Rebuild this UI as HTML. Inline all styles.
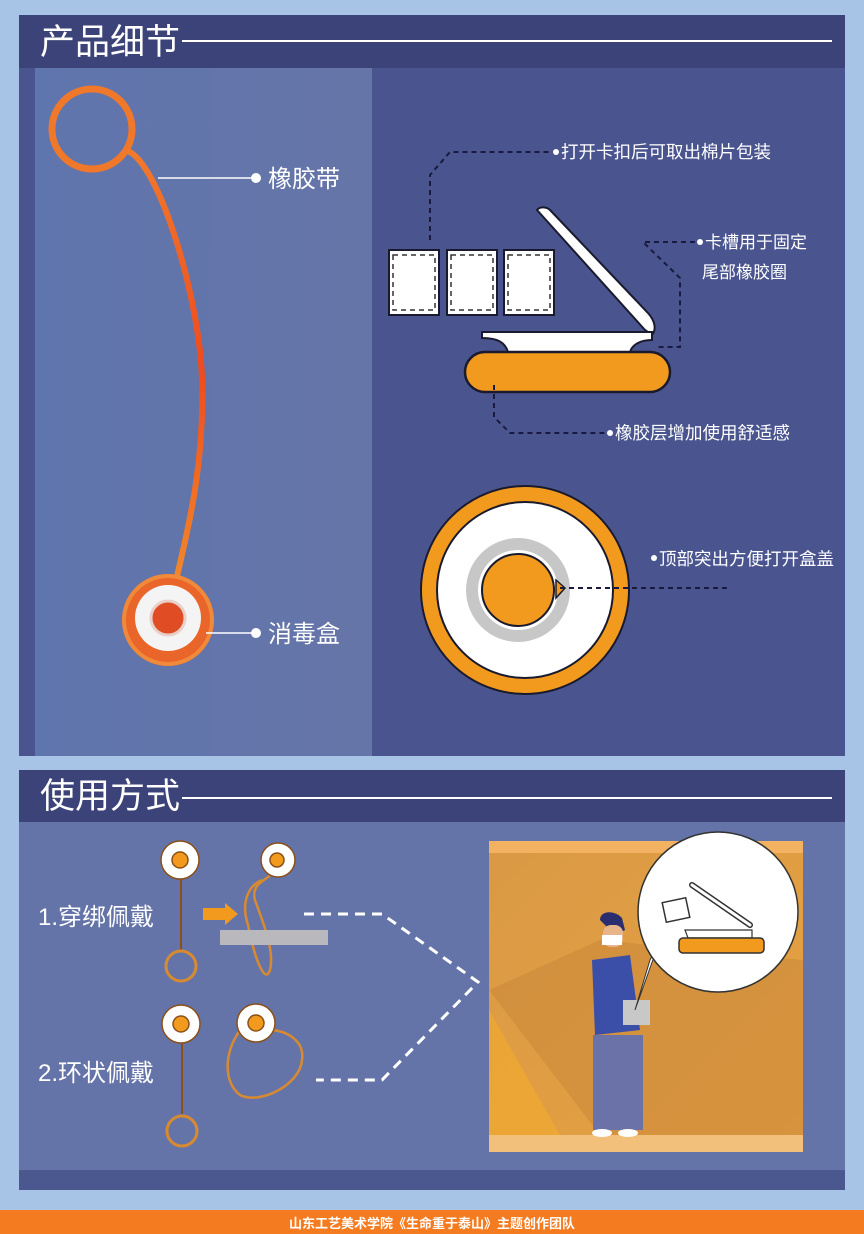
<!DOCTYPE html>
<html><head><meta charset="utf-8"><style>
html,body{margin:0;padding:0;width:864px;height:1234px;overflow:hidden;background:#a7c3e6;}
svg{display:block}
text{font-family:"Liberation Sans","Noto Sans CJK SC",sans-serif;fill:#fff}
</style></head><body>
<svg width="864" height="1234" viewBox="0 0 864 1234" xmlns="http://www.w3.org/2000/svg">
<defs>
<linearGradient id="lp" x1="0" y1="0" x2="1" y2="0"><stop offset="0" stop-color="#5f75ad"/><stop offset="1" stop-color="#6675a8"/></linearGradient>
<linearGradient id="band" x1="0" y1="0" x2="0" y2="1"><stop offset="0" stop-color="#f07a2c"/><stop offset="0.5" stop-color="#f04a1e"/><stop offset="1" stop-color="#f08a2a"/></linearGradient>
<linearGradient id="ph" x1="0" y1="0" x2="1" y2="1"><stop offset="0" stop-color="#d99a45"/><stop offset="1" stop-color="#e8a040"/></linearGradient>
</defs>
<rect x="19" y="15" width="826" height="741" fill="#4a558f"/>
<rect x="19" y="15" width="826" height="53" fill="#3c4379"/>
<text x="40" y="54" font-size="35">产品细节</text>
<line x1="182" y1="41" x2="832" y2="41" stroke="#fff" stroke-width="2"/>
<rect x="35" y="68" width="337" height="688" fill="url(#lp)"/>
<circle cx="92" cy="129" r="40" fill="none" stroke="#f0782a" stroke-width="7"/>
<path d="M128,151 C160,165 200,300 202,380 C205,470 185,540 175,585" fill="none" stroke="url(#band)" stroke-width="6"/>
<line x1="158" y1="178" x2="255" y2="178" stroke="#fff" stroke-width="1.5"/>
<circle cx="256" cy="178" r="5" fill="#fff"/>
<text x="268" y="187" font-size="24">橡胶带</text>
<circle cx="168" cy="620" r="46" fill="#e9652a"/>
<circle cx="168" cy="620" r="44" fill="none" stroke="#f08a3a" stroke-width="4"/>
<circle cx="168" cy="618" r="33" fill="#f4f4f4"/>
<circle cx="168" cy="618" r="17" fill="#e04d25" stroke="#e8d0c8" stroke-width="3"/>
<line x1="206" y1="633" x2="255" y2="633" stroke="#fff" stroke-width="1.5"/>
<circle cx="256" cy="633" r="5" fill="#fff"/>
<text x="268" y="642" font-size="24">消毒盒</text>
<g stroke="#1a1a2e" stroke-width="2">
<rect x="389" y="250" width="50" height="65" fill="#fff"/>
<rect x="447" y="250" width="50" height="65" fill="#fff"/>
<rect x="504" y="250" width="50" height="65" fill="#fff"/>
</g>
<g fill="none" stroke="#333" stroke-width="1.5" stroke-dasharray="5,4">
<rect x="393" y="255" width="42" height="55"/><rect x="451" y="255" width="42" height="55"/><rect x="508" y="255" width="42" height="55"/>
</g>
<path d="M537,210 C540,206 547,207 550,210 L648,313 C656,322 656,330 652,335 L645,330 Z" fill="#fff" stroke="#1a1a2e" stroke-width="2"/>
<path d="M482,332 L652,332 L652,340 C640,340 632,345 630,352 L508,352 C505,342 497,338 482,338 Z" fill="#fff" stroke="#1a1a2e" stroke-width="2"/>
<rect x="465" y="352" width="205" height="40" rx="20" fill="#f29a1e" stroke="#1a1a2e" stroke-width="2.5"/>
<g fill="none" stroke="#1a1a40" stroke-width="2" stroke-dasharray="5,4">
<path d="M430,240 L430,175 L450,152 L550,152"/>
<path d="M695,242 L643,242 L680,278 L680,347 L655,347"/>
<path d="M494,385 L494,417 L510,433 L607,433"/>
</g>
<circle cx="556" cy="152" r="3" fill="#fff"/><text x="561" y="158" font-size="17.5">打开卡扣后可取出棉片包装</text>
<circle cx="700" cy="242" r="3" fill="#fff"/><text x="705" y="248" font-size="17">卡槽用于固定</text>
<text x="702" y="278" font-size="17">尾部橡胶圈</text>
<circle cx="610" cy="433" r="3" fill="#fff"/><text x="615" y="439" font-size="17.5">橡胶层增加使用舒适感</text>
<circle cx="654" cy="558" r="3" fill="#fff"/><text x="659" y="565" font-size="17.5">顶部突出方便打开盒盖</text>
<circle cx="525" cy="590" r="104" fill="#f29a1e" stroke="#1a1a2e" stroke-width="2"/>
<circle cx="525" cy="590" r="88" fill="#fff" stroke="#1a1a2e" stroke-width="2"/>
<circle cx="518" cy="590" r="52" fill="#c7c7c7"/>
<circle cx="518" cy="590" r="40" fill="#fff"/>
<circle cx="518" cy="590" r="36" fill="#f29a1e" stroke="#1a1a2e" stroke-width="2"/>
<path d="M556,580 L565,588 L556,598 Z" fill="#f29a1e" stroke="#1a1a2e" stroke-width="1.5"/>
<line x1="560" y1="588" x2="727" y2="588" stroke="#1a1a40" stroke-width="2" stroke-dasharray="5,4"/>
<rect x="19" y="770" width="826" height="420" fill="#6574a8"/>
<rect x="19" y="770" width="826" height="52" fill="#3c4379"/>
<rect x="19" y="1170" width="826" height="20" fill="#4b5890"/>
<text x="40" y="808" font-size="35">使用方式</text>
<line x1="182" y1="798" x2="832" y2="798" stroke="#fff" stroke-width="2"/>
<text x="38" y="925" font-size="24">1.穿绑佩戴</text>
<text x="38" y="1081" font-size="24">2.环状佩戴</text>
<g stroke="#8a5018" stroke-width="2" fill="none">
<line x1="181" y1="878" x2="181" y2="950"/><circle cx="181" cy="966" r="15" stroke="#d88a30" stroke-width="3"/>
<line x1="182" y1="1042" x2="182" y2="1114"/><circle cx="182" cy="1131" r="15" stroke="#d88a30" stroke-width="3"/>
<path d="M262,880 C250,885 240,900 248,925 C255,960 265,985 270,970 C275,950 262,920 255,900 C250,882 270,880 272,872" stroke="#d88a30" stroke-width="2.5"/>
<path d="M250,1020 C225,1040 220,1080 240,1095 C260,1105 300,1085 302,1060 C305,1040 285,1030 270,1030" stroke="#d88a30" stroke-width="2.5"/>
</g>
<g stroke="#8a5018" stroke-width="1.5">
<circle cx="180" cy="860" r="19" fill="#fff"/><circle cx="180" cy="860" r="8" fill="#f29a1e"/>
<circle cx="278" cy="860" r="17" fill="#fff"/><circle cx="277" cy="860" r="7" fill="#f29a1e"/>
<circle cx="181" cy="1024" r="19" fill="#fff"/><circle cx="181" cy="1024" r="8" fill="#f29a1e"/>
<circle cx="256" cy="1023" r="19" fill="#fff"/><circle cx="256" cy="1023" r="8" fill="#f29a1e"/>
</g>
<rect x="220" y="930" width="108" height="15" fill="#b9b9bd"/>
<path d="M203,908 L225,908 L225,903 L238,914 L225,925 L225,920 L203,920 Z" fill="#f29a1e"/>
<g fill="none" stroke="#fff" stroke-width="3" stroke-dasharray="10,7">
<path d="M304,914 L382,914 L478,982 L382,1080 L316,1080"/>
</g>
<rect x="489" y="841" width="314" height="311" fill="url(#ph)"/>
<rect x="489" y="841" width="314" height="12" fill="#f2b262"/>
<rect x="489" y="1135" width="314" height="17" fill="#f2c07a"/>
<path d="M489,990 L600,940 L803,960 L803,1135 L600,1135 Z" fill="#c8863a" opacity="0.5"/>
<path d="M489,1010 L560,1135 L489,1135 Z" fill="#efaa30" opacity="0.7"/>
<path d="M600,920 C600,910 615,910 622,918 L625,930 L615,935 Z" fill="#2a2e6e"/>
<rect x="603" y="925" width="20" height="22" rx="8" fill="#e8b48a"/>
<rect x="602" y="935" width="20" height="10" fill="#fff"/>
<path d="M592,960 L630,955 L640,1030 L595,1035 Z" fill="#3b4fa8"/>
<rect x="593" y="1035" width="50" height="95" fill="#6a72a8"/>
<rect x="623" y="1000" width="27" height="25" fill="#c8c8c8"/>
<ellipse cx="602" cy="1133" rx="10" ry="4" fill="#fff"/><ellipse cx="628" cy="1133" rx="10" ry="4" fill="#fff"/>
<path d="M660,940 L635,1010 L650,960 Z" fill="#fff" stroke="#333" stroke-width="1"/>
<circle cx="718" cy="912" r="80" fill="#fff" stroke="#333" stroke-width="1.5"/>
<path d="M692,885 L750,925" stroke="#333" stroke-width="6" stroke-linecap="round"/><path d="M692,885 L750,925" stroke="#fff" stroke-width="3" stroke-linecap="round"/>
<rect x="664" y="900" width="24" height="20" fill="#fff" stroke="#333" stroke-width="1.5" transform="rotate(-12 676 910)"/>
<path d="M685,930 L752,930 L752,938 L688,938 Z" fill="#fff" stroke="#333" stroke-width="1.2"/>
<rect x="679" y="938" width="85" height="15" rx="4" fill="#f29a1e" stroke="#333" stroke-width="1.5"/>
<rect x="0" y="1210" width="864" height="24" fill="#f47b20"/>
<text x="432" y="1228" font-size="13" text-anchor="middle" font-weight="bold">山东工艺美术学院《生命重于泰山》主题创作团队</text>
</svg>
</body></html>
